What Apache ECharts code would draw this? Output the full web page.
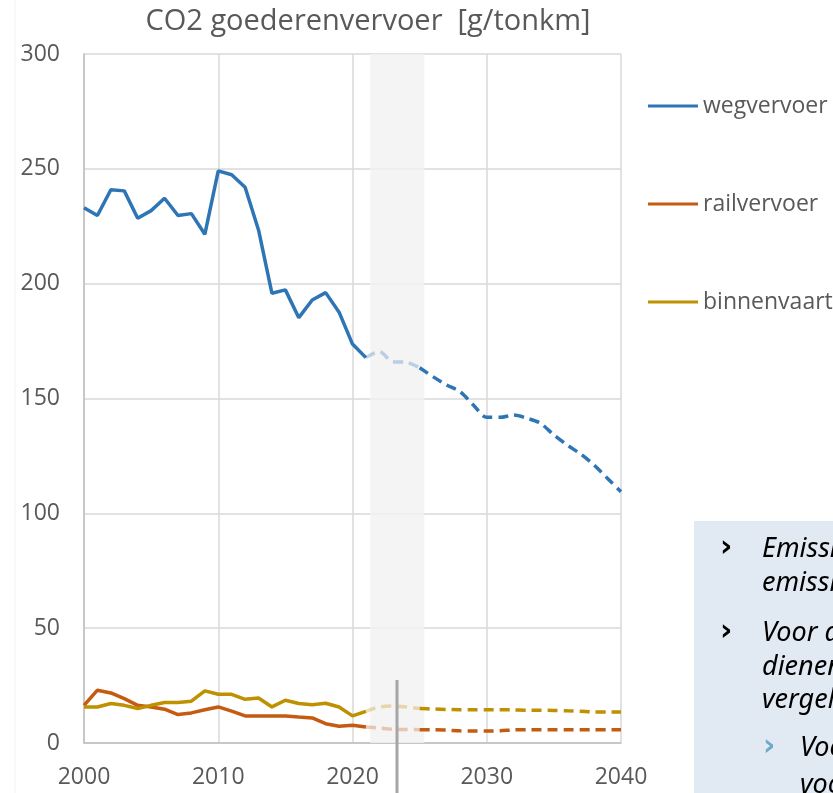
<!DOCTYPE html>
<html>
<head>
<meta charset="utf-8">
<script src="https://cdn.jsdelivr.net/npm/echarts@6/dist/echarts.min.js"></script>
<style>
  html, body { margin: 0; padding: 0; background: #fff; }
  #chart { width: 833px; height: 793px; }
</style>
</head>
<body>
<div id="chart"></div>
<script>
// historische jaren en prognose jaren
var histYears = [2000, 2001, 2002, 2003, 2004, 2005, 2006, 2007, 2008, 2009, 2010,
                 2011, 2012, 2013, 2014, 2015, 2016, 2017, 2018, 2019, 2020, 2021];
var projYears = [2021, 2022, 2023, 2024, 2025, 2026, 2027, 2028, 2029, 2030,
                 2031, 2032, 2033, 2034, 2035, 2036, 2037, 2038, 2039, 2040];

var wegHist = [233.1, 229.7, 240.9, 240.4, 228.5, 231.8, 237.2, 229.7, 230.5, 221.5, 249.1,
               247.4, 242.0, 223.4, 195.8, 197.3, 185.2, 192.9, 196.1, 187.6, 173.7, 167.8];
var wegProj = [167.8, 170.4, 166.0, 165.8, 163.4, 159.5, 155.9, 153.0, 147.2, 141.8,
               141.8, 142.8, 141.4, 139.2, 134.1, 129.7, 125.8, 121.0, 115.2, 109.4];

var railHist = [16.4, 23.0, 21.8, 19.3, 16.4, 15.7, 14.7, 12.4, 13.1, 14.5, 15.7,
                13.9, 11.8, 11.8, 11.8, 11.8, 11.3, 10.9, 8.4, 7.3, 7.7, 7.0];
var railProj = [7.0, 6.5, 6.0, 5.9, 5.8, 5.8, 5.6, 5.3, 5.2, 5.2,
                5.3, 5.7, 5.8, 5.8, 5.8, 5.8, 5.8, 5.8, 5.8, 5.8];

var binnenHist = [15.7, 15.7, 17.2, 16.4, 15.0, 16.4, 17.6, 17.6, 18.2, 22.7, 21.2,
                  21.2, 19.0, 19.6, 15.7, 18.6, 17.2, 16.7, 17.3, 15.7, 11.8, 13.8];
var binnenProj = [13.8, 15.7, 16.1, 15.7, 15.0, 14.8, 14.6, 14.5, 14.5, 14.5,
                  14.5, 14.4, 14.3, 14.3, 14.2, 14.0, 13.8, 13.5, 13.5, 13.5];

var names = ['wegvervoer', 'railvervoer', 'binnenvaart'];
var colors = ['#2E75B6', '#C55A11', '#BF9000'];
var bandRange = [2021.32, 2025.35]; // grijze band
var yTicks = [0, 300, 50];
var xTicks = [2000, 2040, 10];

var textColor = '#595959';
var font = '"Open Sans", sans-serif';
var boxFont = 'italic 27px "Noto Sans"';
var bulletFont = 'bold 30px "DejaVu Sans"';

function pairs(xs, ys, from, to) {
	var out = [];
	for (var i = from; i < to; i++) out.push([xs[i], ys[i]]);
	return out;
}

var mychart = echarts.init(document.getElementById('chart'));

var series = [{
	name: 'band',
	type: 'line',
	data: [],
	z: 1,
	markArea: {
		silent: true,
		itemStyle: { color: 'rgba(242,242,242,0.85)' },
		data: [[{ xAxis: bandRange[0] }, { xAxis: bandRange[1] }]]
	}
}];

[[wegHist, wegProj], [railHist, railProj], [binnenHist, binnenProj]].forEach(function(set, idx) {
	var hist = set[0], proj = set[1];
	// gemeten
	series.push({
		name: names[idx], type: 'line', z: 3, symbol: 'none', color: colors[idx],
		lineStyle: { width: 3.5, color: colors[idx] },
		data: pairs(histYears, hist, 0, hist.length)
	});
	// binnen de band: vervaagd
	series.push({
		name: names[idx], type: 'line', z: 3, symbol: 'none', smooth: 0.3, color: colors[idx],
		lineStyle: { width: 3.5, color: colors[idx], type: [10, 6], opacity: 0.3 },
		data: pairs(projYears, proj, 0, 5)
	});
	// prognose
	series.push({
		name: names[idx], type: 'line', z: 3, symbol: 'none', smooth: 0.3, color: colors[idx],
		lineStyle: { width: 3.5, color: colors[idx], type: [10, 6] },
		data: pairs(projYears, proj, 4, proj.length)
	});
});

var option = {
	animation: false,
	title: {
		text: 'CO2 goederenvervoer  [g/tonkm]',
		left: 363,
		top: 2,
		textAlign: 'center',
		textStyle: { color: textColor, fontFamily: font, fontWeight: 'normal', fontSize: 29 }
	},
	legend: {
		data: names,
		orient: 'vertical',
		left: 643,
		top: 89,
		icon: 'rect',
		itemWidth: 50,
		itemHeight: 3,
		itemGap: 74,
		itemTextGap: 4,
		textStyle: { color: textColor, fontFamily: font, fontSize: 23, lineHeight: 24 }
	},
	grid: { left: 84, right: 212, top: 54, bottom: 50, outerBoundsMode: 'none' },
	xAxis: {
		type: 'value',
		min: xTicks[0], max: xTicks[1], interval: xTicks[2],
		axisLine: { show: true, lineStyle: { color: '#bfbfbf', width: 1.5 } },
		axisTick: { show: false },
		splitLine: { show: true, lineStyle: { color: '#d9d9d9', width: 1.5 } },
		axisLabel: {
			color: textColor, fontFamily: font, fontSize: 23, margin: 23,
			formatter: function(v) { return String(v); }
		}
	},
	yAxis: {
		type: 'value',
		min: yTicks[0], max: yTicks[1], interval: yTicks[2],
		axisLine: { show: true, lineStyle: { color: '#bfbfbf', width: 1.5 } },
		axisTick: { show: false },
		splitLine: { show: true, lineStyle: { color: '#d9d9d9', width: 1.5 } },
		axisLabel: { color: textColor, fontFamily: font, fontSize: 23, margin: 24 }
	},
	graphic: [
		{ type: 'line', z: 0, shape: { x1: 15, y1: 0, x2: 15, y2: 793 }, style: { stroke: '#f3f3f3', lineWidth: 1 } },
		{ type: 'line', z: 100, shape: { x1: 397, y1: 680, x2: 397, y2: 793 }, style: { stroke: '#a6a6a6', lineWidth: 3 } },
		{ type: 'rect', z: 100, shape: { x: 694, y: 521, width: 200, height: 300 }, style: { fill: '#e1e9f2' } },
		{ type: 'text', z: 101, x: 720, y: 548, style: { text: '›', fill: '#000', font: bulletFont, verticalAlign: 'middle' } },
		{ type: 'text', z: 101, x: 762, y: 549, style: { text: 'Emissiefactoren', fill: '#000', font: boxFont, verticalAlign: 'middle' } },
		{ type: 'text', z: 101, x: 762, y: 583, style: { text: 'emissies', fill: '#000', font: boxFont, verticalAlign: 'middle' } },
		{ type: 'text', z: 101, x: 720, y: 632, style: { text: '›', fill: '#000', font: bulletFont, verticalAlign: 'middle' } },
		{ type: 'text', z: 101, x: 762, y: 633, style: { text: 'Voor de', fill: '#000', font: boxFont, verticalAlign: 'middle' } },
		{ type: 'text', z: 101, x: 762, y: 667, style: { text: 'dienen', fill: '#000', font: boxFont, verticalAlign: 'middle' } },
		{ type: 'text', z: 101, x: 762, y: 700, style: { text: 'vergelijking', fill: '#000', font: boxFont, verticalAlign: 'middle' } },
		{ type: 'text', z: 101, x: 763, y: 747, style: { text: '›', fill: '#6fa8c8', font: bulletFont, verticalAlign: 'middle' } },
		{ type: 'text', z: 101, x: 800, y: 748, style: { text: 'Voor', fill: '#000', font: boxFont, verticalAlign: 'middle' } },
		{ type: 'text', z: 101, x: 800, y: 785, style: { text: 'voor', fill: '#000', font: boxFont, verticalAlign: 'middle' } }
	],
	series: series
};

mychart.setOption(option);
</script>
</body>
</html>
